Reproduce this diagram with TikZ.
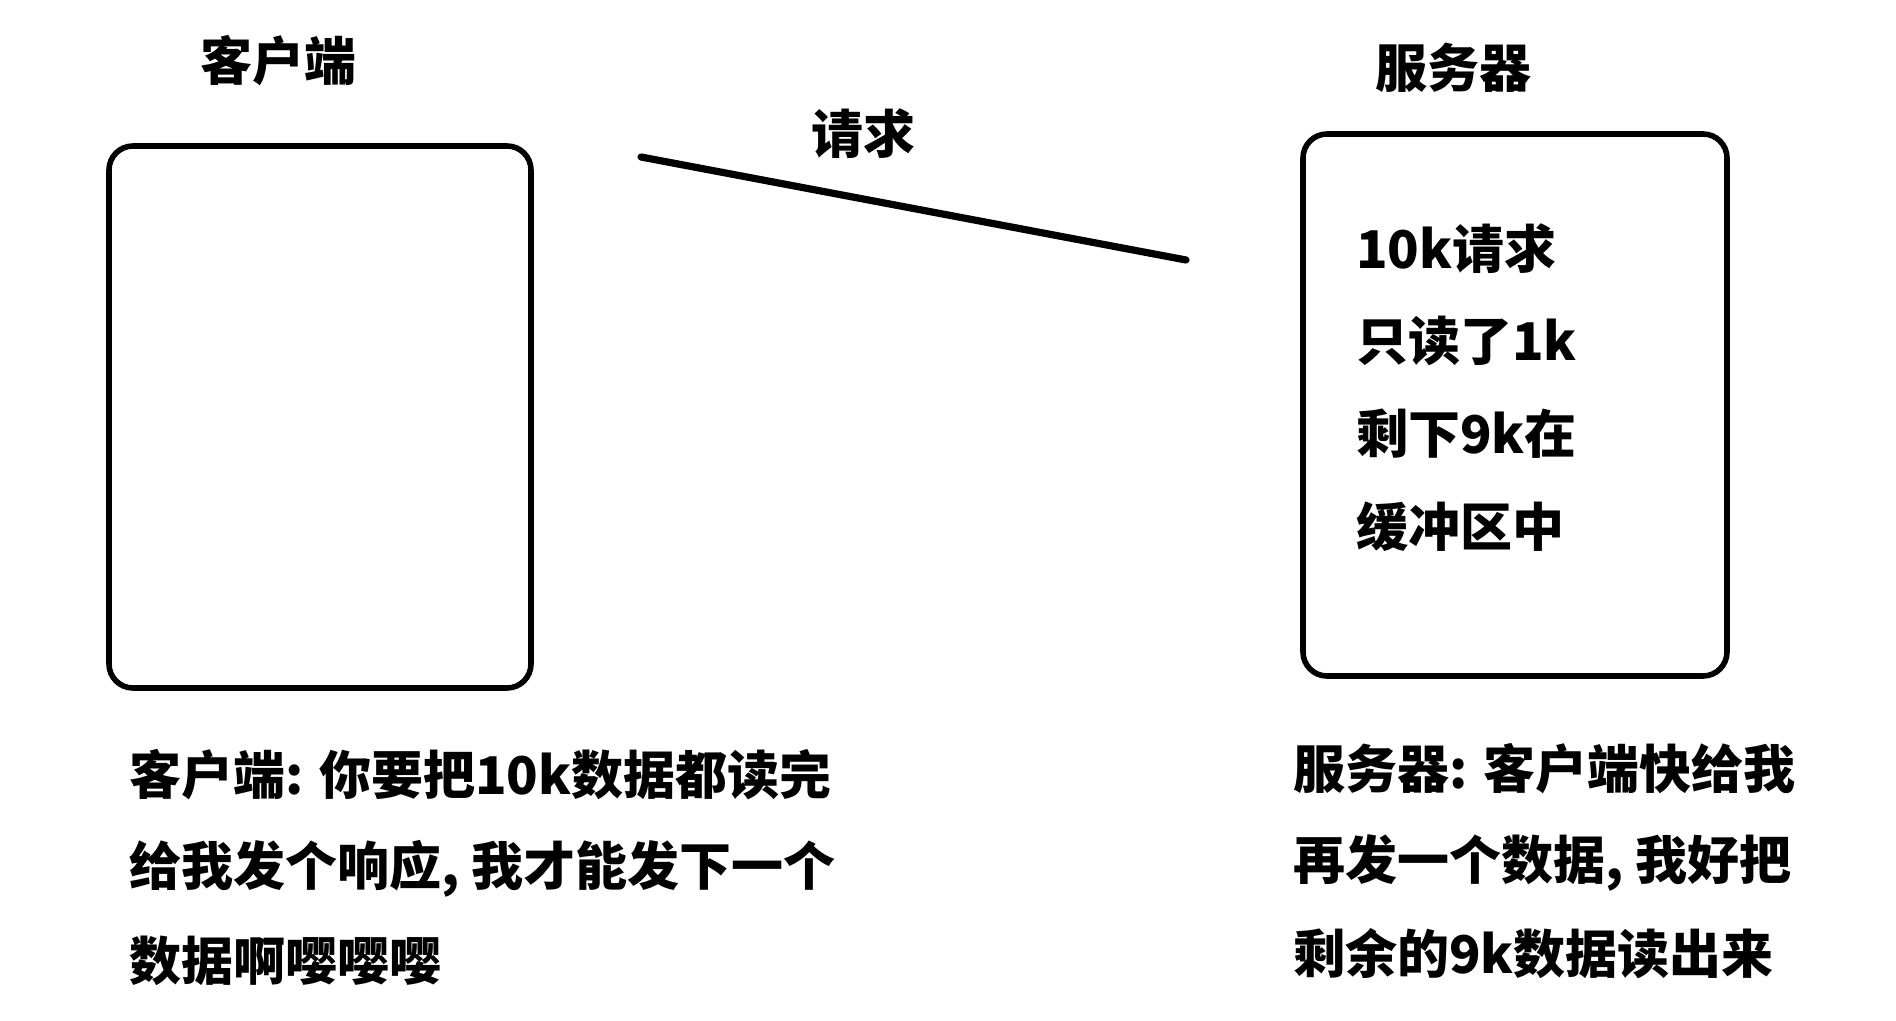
\documentclass[tikz,border=0pt]{standalone}
\usepackage{fontspec}
\setmainfont{Noto Sans CJK SC}

\begin{document}
\begin{tikzpicture}[x=0.5pt, y=-0.5pt, font=\fontsize{26}{30}\selectfont\bfseries]
    \useasboundingbox[fill=white] (0, 0) rectangle (1896, 1021);

    \node (ctitle) at (278, 61) {客户端};
    \node (stitle) at (1453, 68) {服务器};

    \node (cbox) [draw, line width=2.8pt, rounded corners=12pt, minimum width=211pt, minimum height=271pt] at (320, 417) {};
    \node (sbox) [draw, line width=2.8pt, rounded corners=12pt, minimum width=212pt, minimum height=271pt] at (1515, 405) {};

    \coordinate (reqa) at (641, 157);
    \coordinate (reqb) at (1186, 260);
    \draw[line width=3.6pt, line cap=round] (reqa) -- (reqb);
    \node (req) at (863, 134) {请求};

    \node (s1) [anchor=west] at (1349, 249) {10k请求};
    \node (s2) [anchor=west] at (1349, 341) {只读了1k};
    \node (s3) [anchor=west] at (1349, 434) {剩下9k在};
    \node (s4) [anchor=west] at (1349, 527) {缓冲区中};

    \node (c1) [anchor=west] at (122, 775) {客户端: 你要把10k数据都读完};
    \node (c2) [anchor=west] at (122, 869) {给我发个响应, 我才能发下一个};
    \node (c3) [anchor=west] at (122, 961) {数据啊嘤嘤嘤};

    \node (r1) [anchor=west] at (1286, 769) {服务器: 客户端快给我};
    \node (r2) [anchor=west] at (1286, 863) {再发一个数据, 我好把};
    \node (r3) [anchor=west] at (1286, 954) {剩余的9k数据读出来};
\end{tikzpicture}
\end{document}
